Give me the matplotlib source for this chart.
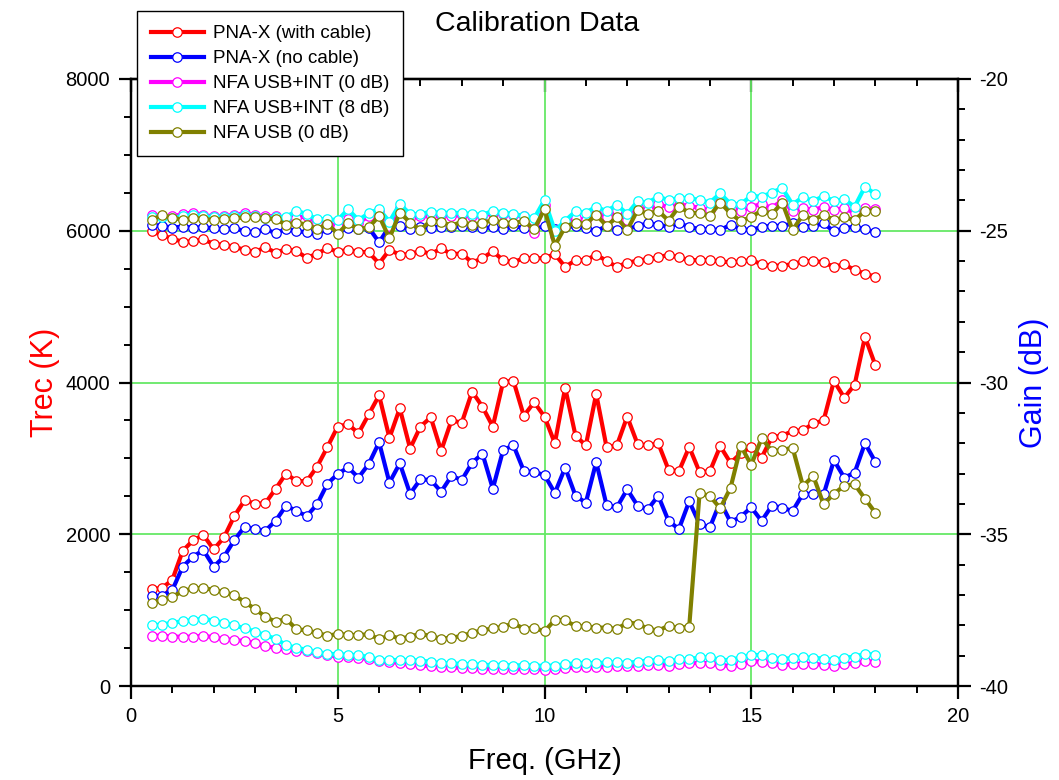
import numpy as np
import matplotlib
matplotlib.use("Agg")
import matplotlib.pyplot as plt
from matplotlib.ticker import MultipleLocator

plt.rcParams["font.family"] = ["Liberation Sans", "DejaVu Sans"]
plt.rcParams["axes.unicode_minus"] = False

# ── Data ──────────────────────────────────────────────────────────────────────
freq = np.arange(0.5, 18.01, 0.25)   # GHz, 71 points

trec_pna_cable = [
    1280, 1290, 1400, 1780, 1920, 1990, 1800, 1960,
    2240, 2450, 2400, 2410, 2600, 2800, 2700, 2700,
    2890, 3150, 3420, 3450, 3330, 3580, 3830, 3270,
    3660, 3130, 3420, 3540, 3100, 3500, 3470, 3880,
    3680, 3420, 4010, 4020, 3560, 3740, 3550, 3200,
    3930, 3300, 3170, 3850, 3150, 3170, 3550, 3190,
    3170, 3200, 2850, 2830, 3150, 2820, 2830, 3160,
    2940, 3070, 3150, 3010, 3280, 3300, 3360, 3370,
    3460, 3500, 4020, 3800, 3970, 4600, 4230]
trec_pna_nocable = [
    1186, 1190, 1265, 1573, 1704, 1792, 1573, 1704,
    1924, 2100, 2069, 2047, 2179, 2377, 2306, 2240,
    2394, 2667, 2794, 2882, 2746, 2926, 3212, 2680,
    2935, 2534, 2724, 2715, 2561, 2768, 2715, 2943,
    3062, 2600, 3110, 3172, 2834, 2820, 2781, 2544,
    2877, 2508, 2416, 2952, 2386, 2355, 2592, 2377,
    2329, 2508, 2175, 2069, 2434, 2135, 2091, 2429,
    2161, 2231, 2355, 2175, 2377, 2350, 2306, 2534,
    2530, 2525, 2974, 2746, 2811, 3199, 2956]
trec_nfa_int0 = [
    663, 663, 650, 650, 650, 663, 642, 620,
    606, 593, 563, 527, 501, 483, 465, 457,
    431, 409, 387, 378, 369, 360, 329, 316,
    307, 290, 272, 260, 250, 245, 240, 235,
    225, 225, 230, 225, 220, 225, 215, 225,
    235, 245, 250, 250, 255, 260, 265, 270,
    275, 280, 270, 285, 299, 307, 299, 277,
    264, 290, 329, 320, 299, 277, 290, 290,
    290, 281, 264, 290, 299, 325, 320]
trec_nfa_int8 = [
    800, 808, 835, 852, 870, 887, 861, 835,
    800, 760, 716, 668, 623, 540, 501, 479,
    448, 426, 418, 413, 405, 382, 343, 343,
    343, 343, 334, 320, 300, 300, 290, 285,
    280, 275, 280, 270, 275, 270, 265, 270,
    285, 300, 305, 300, 310, 310, 305, 320,
    335, 340, 325, 350, 352, 378, 378, 343,
    343, 378, 413, 405, 369, 356, 369, 378,
    373, 360, 343, 373, 387, 422, 413]
trec_nfa_usb = [
    1098, 1133, 1177, 1248, 1287, 1292, 1265, 1239,
    1195, 1107, 1015, 913, 844, 887, 747, 734,
    699, 663, 685, 676, 668, 685, 615, 668,
    623, 650, 690, 655, 623, 637, 659, 703,
    734, 760, 780, 826, 755, 764, 721, 870,
    870, 786, 786, 769, 769, 751, 835, 822,
    755, 729, 795, 764, 782, 2540, 2504, 2342,
    2614, 3163, 2913, 3265, 3097, 3110, 3141, 2636,
    2768, 2394, 2534, 2640, 2658, 2469, 2284]

gain_pna_cable = [
    -25.02, -25.14, -25.27, -25.36, -25.35, -25.28, -25.44, -25.46,
    -25.53, -25.63, -25.69, -25.55, -25.72, -25.61, -25.66, -25.90,
    -25.75, -25.58, -25.69, -25.63, -25.69, -25.71, -26.08, -25.63,
    -25.79, -25.77, -25.66, -25.77, -25.58, -25.77, -25.75, -26.05,
    -25.90, -25.68, -25.97, -26.04, -25.90, -25.91, -25.90, -25.77,
    -26.19, -25.97, -25.97, -25.79, -25.99, -26.19, -26.05, -25.99,
    -25.93, -25.88, -25.79, -25.88, -25.97, -25.97, -25.97, -26.01,
    -26.04, -26.01, -25.97, -26.10, -26.15, -26.15, -26.10, -26.01,
    -25.99, -26.04, -26.19, -26.10, -26.30, -26.41, -26.52]
gain_pna_nocable = [
    -24.81, -24.84, -24.90, -24.86, -24.90, -24.88, -24.92, -24.95,
    -24.92, -25.01, -25.05, -24.95, -25.08, -24.95, -25.01, -25.05,
    -25.10, -24.95, -24.97, -24.92, -24.95, -24.90, -25.38, -24.86,
    -24.84, -24.95, -24.88, -24.90, -24.86, -24.88, -24.84, -24.86,
    -24.92, -24.88, -24.95, -24.84, -24.92, -24.95, -24.84, -24.95,
    -24.89, -24.84, -24.91, -25.02, -24.84, -24.98, -24.95, -24.84,
    -24.76, -24.80, -24.87, -24.76, -24.87, -24.95, -24.95, -24.98,
    -24.80, -24.95, -24.98, -24.87, -24.84, -24.84, -24.76, -24.87,
    -24.84, -24.76, -25.02, -24.91, -24.87, -24.95, -25.05]
gain_nfa_int0 = [
    -24.48, -24.51, -24.53, -24.45, -24.40, -24.48, -24.53, -24.51,
    -24.48, -24.42, -24.48, -24.53, -24.51, -24.62, -24.57, -24.53,
    -24.73, -24.73, -24.86, -24.62, -24.75, -24.51, -24.34, -24.85,
    -24.26, -24.59, -24.51, -24.53, -24.48, -24.51, -24.48, -24.51,
    -24.53, -24.40, -24.45, -24.48, -24.53, -25.08, -24.15, -25.16,
    -24.76, -24.58, -24.65, -24.40, -24.56, -24.32, -24.65, -24.23,
    -24.32, -24.12, -24.23, -24.14, -24.18, -24.25, -24.32, -24.03,
    -24.25, -24.34, -24.21, -24.12, -24.25, -23.99, -24.36, -24.25,
    -24.32, -24.21, -24.32, -24.25, -24.43, -24.25, -24.29]
gain_nfa_int8 = [
    -24.55, -24.55, -24.58, -24.52, -24.48, -24.52, -24.56, -24.55,
    -24.52, -24.48, -24.52, -24.58, -24.55, -24.55, -24.34, -24.45,
    -24.62, -24.62, -24.65, -24.29, -24.65, -24.42, -24.29, -24.70,
    -24.12, -24.45, -24.45, -24.37, -24.42, -24.40, -24.42, -24.45,
    -24.48, -24.34, -24.40, -24.45, -24.51, -24.59, -23.99, -25.00,
    -24.67, -24.36, -24.40, -24.21, -24.36, -24.14, -24.45, -24.03,
    -24.07, -23.88, -23.99, -23.92, -23.92, -23.99, -24.07, -23.77,
    -24.12, -24.12, -23.85, -23.88, -23.74, -23.59, -24.14, -23.88,
    -24.03, -23.85, -24.03, -23.96, -24.21, -23.55, -23.79]
gain_nfa_usb = [
    -24.64, -24.48, -24.57, -24.64, -24.57, -24.62, -24.64, -24.62,
    -24.59, -24.56, -24.55, -24.59, -24.62, -24.80, -24.73, -24.80,
    -24.95, -24.77, -25.10, -24.75, -24.95, -24.89, -24.51, -25.25,
    -24.40, -24.73, -24.97, -24.67, -24.70, -24.84, -24.70, -24.81,
    -24.73, -24.66, -24.73, -24.75, -24.68, -24.95, -24.29, -25.49,
    -24.87, -24.73, -24.78, -24.47, -24.84, -24.56, -24.98, -24.32,
    -24.45, -24.34, -24.67, -24.21, -24.40, -24.43, -24.51, -24.07,
    -24.43, -24.69, -24.54, -24.34, -24.45, -24.07, -24.98, -24.47,
    -24.65, -24.47, -24.65, -24.56, -24.65, -24.34, -24.34]

labels = ["PNA-X (with cable)", "PNA-X (no cable)", "NFA USB+INT (0 dB)",
          "NFA USB+INT (8 dB)", "NFA USB (0 dB)"]
colors = ["#ff0000", "#0000ff", "#ff00ff", "#00ffff", "#808000"]
trec_all = [trec_pna_cable, trec_pna_nocable, trec_nfa_int0, trec_nfa_int8, trec_nfa_usb]
gain_all = [gain_pna_cable, gain_pna_nocable, gain_nfa_int0, gain_nfa_int8, gain_nfa_usb]

# ── Figure ────────────────────────────────────────────────────────────────────
W, H = 1059, 780
fig = plt.figure(figsize=(W / 100, H / 100), dpi=100)
ax = fig.add_axes([131 / W, 1 - 686 / H, (958 - 131) / W, (686 - 79) / H])
ax2 = ax.twinx()

style = dict(lw=3.0, marker="o", ms=6.8, mfc="white", mew=0.9)

for trec, gain, lab, c in zip(trec_all, gain_all, labels, colors):
    ax.plot(freq, trec, color=c, mec=c, label=lab, **style)
    ax2.plot(freq, gain, color=c, mec=c, **style)

GRID = "#66e866"
ax.set_xlim(0, 20)
ax.set_ylim(0, 8000)
ax2.set_ylim(-40, -20)
ax.xaxis.set_major_locator(MultipleLocator(5))
ax.xaxis.set_minor_locator(MultipleLocator(1))
ax.yaxis.set_major_locator(MultipleLocator(2000))
ax.yaxis.set_minor_locator(MultipleLocator(500))
ax2.yaxis.set_major_locator(MultipleLocator(5))
ax2.yaxis.set_minor_locator(MultipleLocator(1))
ax.grid(True, which="major", color=GRID, lw=1.3)
ax.set_axisbelow(True)

for a in (ax, ax2):
    for s in a.spines.values():
        s.set_linewidth(1.6)
ax.tick_params(which="major", direction="out", length=9, width=1.6,
               labelsize=14.5, right=False, top=False, pad=6)
ax.tick_params(which="minor", direction="out", length=5, width=1.4,
               right=False, top=False)
ax2.tick_params(which="major", direction="out", length=9, width=1.6,
                labelsize=14.5, pad=6)
ax2.tick_params(which="minor", direction="out", length=5, width=1.4)

top = ax.secondary_xaxis("top")
top.xaxis.set_major_locator(MultipleLocator(5))
top.xaxis.set_minor_locator(MultipleLocator(1))
top.tick_params(which="major", direction="in", length=9, width=1.6, labeltop=False)
top.tick_params(which="minor", direction="in", length=5, width=1.4)
top.spines["top"].set_linewidth(1.6)

ax.set_xlabel("Freq. (GHz)", fontsize=21, labelpad=15)
ax.set_ylabel("Trec (K)", fontsize=22, color="#ff0000", labelpad=4)
ax2.set_ylabel("Gain (dB)", fontsize=22, color="#0000ff", labelpad=8)

fig.text(537 / W, 1 - 24 / H, "Calibration Data", fontsize=20.5,
         ha="center", va="center")

leg = fig.legend(loc="upper left", bbox_to_anchor=(137 / W, 1 - 11 / H),
                 fontsize=13.5, frameon=True, fancybox=False, framealpha=1,
                 edgecolor="black", handlelength=2.8, labelspacing=0.42,
                 borderpad=0.75, handletextpad=0.5, borderaxespad=0)
leg.get_frame().set_linewidth(1.0)

fig.savefig("out.png", dpi=100)
